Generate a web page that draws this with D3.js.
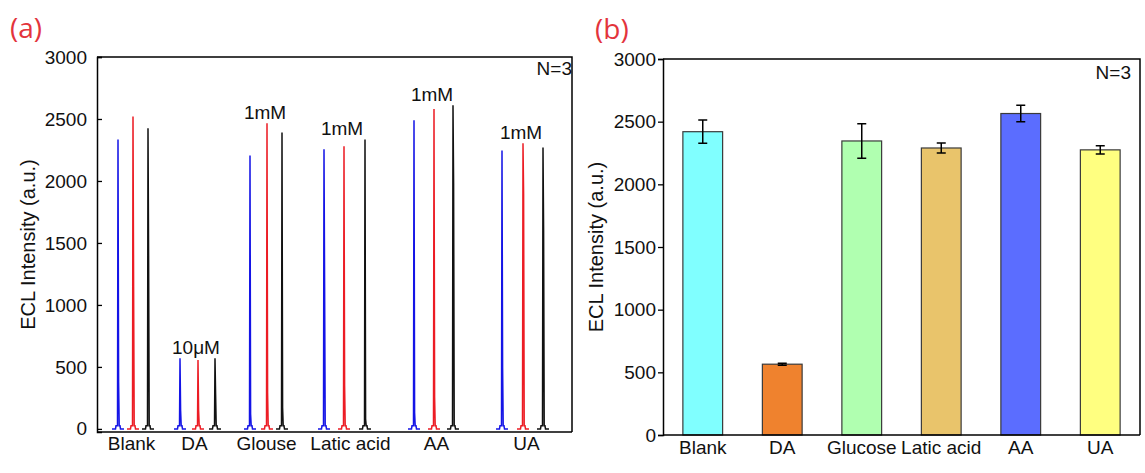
<!DOCTYPE html>
<html><head><meta charset="utf-8">
<script src="https://cdn.jsdelivr.net/npm/d3@7"></script>
<style>
html,body{margin:0;padding:0;background:#fff;}
svg{display:block;font-family:Arial,"Liberation Sans",sans-serif;}
</style></head>
<body>
<svg id="chart" width="1145" height="473"></svg>
<script>
// ---------- Panel (a) data ----------
const categoriesA = ["Blank", "DA", "Glouse", "Latic acid", "AA", "UA"];
const labelTimesA = [34, 97, 169, 253, 339, 429];
const concLabels = ["", "10μM", "1mM", "1mM", "1mM", "1mM"];
const peakTimesBlue = [21, 83, 153, 227, 317, 405];
const peakTimesRed = [36, 101, 170, 247, 337, 426];
const peakTimesBlack = [51, 118, 185, 268, 356, 446];
const peaksBlue = [2335, 570, 2205, 2255, 2490, 2245];
const peaksRed = [2520, 556, 2465, 2280, 2580, 2305];
const peaksBlack = [2425, 570, 2390, 2335, 2610, 2270];
const shoulderBlue = [380, 150, 120, 1170, 130, 500];
const shoulderRed = [1150, 150, 290, 355, 260, 1900];
const shoulderBlack = [1400, 280, 170, 80, 1980, 1600];
const footValue = 25;
const spikeOffsets = [-6, -2.5, -2, -0.5, 0, 0.6, 1.2, 2, 2.5, 6];
const yTicksA = [0, 500, 1000, 1500, 2000, 2500, 3000];

// ---------- Panel (b) data ----------
const categoriesB = ["Blank", "DA", "Glucose", "Latic acid", "AA", "UA"];
const meansB = [2420, 565, 2346, 2290, 2565, 2275];
const errorsB = [93, 8, 137, 40, 65, 33];
const colorsB = ["#80ffff", "#ef822e", "#b0ffb0", "#e9c46b", "#5b6dff", "#ffff80"];
const yTicksB = [0, 500, 1000, 1500, 2000, 2500, 3000];

const svg = d3.select("#chart");
const FONT = 19;

// ======== Panel (a) ========
const A = {left: 97, right: 572, top: 57, bottom: 432};
const xA = d3.scaleLinear().domain([0, 475]).range([A.left, A.right]);
const yA = d3.scaleLinear().domain([-25, 3000]).range([A.bottom, A.top]);

const gA = svg.append("g");
gA.append("path").attr("d", `M${A.left},${A.top}H${A.right}V${A.bottom}`)
  .attr("fill", "none").attr("stroke", "#000").attr("stroke-width", 1.5);

const yAxisA = d3.axisLeft(yA).tickValues(yTicksA).tickSize(-5).tickPadding(10).tickFormat(d3.format("d"));
const gyA = gA.append("g").attr("transform", `translate(${A.left},0)`).call(yAxisA);
gyA.select(".domain").attr("stroke-width", 1.5);
gyA.selectAll(".tick line").attr("stroke-width", 1.3);
gyA.selectAll("text").attr("font-size", FONT).attr("font-family", "Arial, 'Liberation Sans', sans-serif").attr("fill", "#111");

const xAxisA = d3.axisBottom(xA).tickValues(labelTimesA).tickSize(0).tickPadding(5)
  .tickFormat((d, i) => categoriesA[i]);
const gxA = gA.append("g").attr("transform", `translate(0,${A.bottom})`).call(xAxisA);
gxA.select(".domain").attr("stroke-width", 1.5).attr("d", `M${A.left},0H${A.right}`);
gxA.selectAll("text").attr("font-size", FONT).attr("font-family", "Arial, 'Liberation Sans', sans-serif").attr("fill", "#111");

const spikeSeries = [
  {times: peakTimesBlue, peaks: peaksBlue, shoulders: shoulderBlue, color: "#1414e6"},
  {times: peakTimesRed, peaks: peaksRed, shoulders: shoulderRed, color: "#ec1c24"},
  {times: peakTimesBlack, peaks: peaksBlack, shoulders: shoulderBlack, color: "#111111"}
];
const line = d3.line().x(d => xA(d[0])).y(d => yA(d[1]));
spikeSeries.forEach(s => {
  s.times.forEach((t, i) => {
    const vals = [0, 0, footValue, footValue, s.peaks[i], s.shoulders[i], footValue, footValue, 0, 0];
    const pts = spikeOffsets.map((o, k) => [t + o, vals[k]]);
    gA.append("path").attr("d", line(pts)).attr("fill", "none")
      .attr("stroke", s.color).attr("stroke-width", 1.5).attr("stroke-linejoin", "miter");
  });
});

concLabels.forEach((lab, i) => {
  if (!lab) return;
  const m = Math.max(peaksBlue[i], peaksRed[i], peaksBlack[i]);
  gA.append("text").attr("x", xA(peakTimesRed[i]) - 2).attr("y", yA(m) - 4)
    .attr("text-anchor", "middle").attr("font-size", FONT).attr("fill", "#111").text(lab);
});

gA.append("text").attr("x", A.right).attr("y", 75).attr("text-anchor", "end")
  .attr("font-size", FONT).attr("fill", "#111").text("N=3");

gA.append("text").attr("transform", `translate(27.5,${(A.top + A.bottom) / 2}) rotate(-90)`)
  .attr("text-anchor", "middle").attr("dy", "0.35em").attr("font-size", 20).attr("fill", "#111")
  .text("ECL Intensity (a.u.)");

svg.append("text").attr("x", 10).attr("y", 38).attr("font-size", 28)
  .attr("font-family", "'Open Sans', sans-serif").attr("fill", "#e3343c").text("(a)");

// ======== Panel (b) ========
const B = {left: 663, right: 1140, top: 59, bottom: 435};
const xB = d3.scaleBand().domain(categoriesB).range([B.left, B.right]).paddingInner(0.5).paddingOuter(0.25);
const yB = d3.scaleLinear().domain([0, 3000]).range([B.bottom, B.top]);

const gB = svg.append("g");
gB.selectAll("rect.bar").data(categoriesB).join("rect").attr("class", "bar")
  .attr("x", d => xB(d)).attr("width", xB.bandwidth())
  .attr("y", (d, i) => yB(meansB[i])).attr("height", (d, i) => yB(0) - yB(meansB[i]))
  .attr("fill", (d, i) => colorsB[i]).attr("stroke", "#3a3a3a").attr("stroke-width", 1.2);

categoriesB.forEach((c, i) => {
  const cx = xB(c) + xB.bandwidth() / 2;
  const hi = yB(meansB[i] + errorsB[i]), lo = yB(meansB[i] - errorsB[i]);
  const capW = 4.5;
  gB.append("path").attr("d", `M${cx},${hi}V${lo}M${cx - capW},${hi}H${cx + capW}M${cx - capW},${lo}H${cx + capW}`)
    .attr("fill", "none").attr("stroke", "#000").attr("stroke-width", 1.5);
});

gB.append("path").attr("d", `M${B.left},${B.top}H${B.right}V${B.bottom}`)
  .attr("fill", "none").attr("stroke", "#000").attr("stroke-width", 1.5);

const yAxisB = d3.axisLeft(yB).tickValues(yTicksB).tickSize(5).tickPadding(2).tickFormat(d3.format("d"));
const gyB = gB.append("g").attr("transform", `translate(${B.left},0)`).call(yAxisB);
gyB.select(".domain").attr("stroke-width", 1.5);
gyB.selectAll(".tick line").attr("stroke-width", 1.3);
gyB.selectAll("text").attr("font-size", FONT).attr("font-family", "Arial, 'Liberation Sans', sans-serif").attr("fill", "#111");

const xAxisB = d3.axisBottom(xB).tickSize(0).tickPadding(6);
const gxB = gB.append("g").attr("transform", `translate(0,${B.bottom})`).call(xAxisB);
gxB.select(".domain").attr("stroke-width", 1.5).attr("d", `M${B.left},0H${B.right}`);
gxB.selectAll("text").attr("font-size", FONT).attr("font-family", "Arial, 'Liberation Sans', sans-serif").attr("fill", "#111");

gB.append("text").attr("x", 1131).attr("y", 79).attr("text-anchor", "end")
  .attr("font-size", FONT).attr("fill", "#111").text("N=3");

gB.append("text").attr("transform", `translate(596,${(B.top + B.bottom) / 2}) rotate(-90)`)
  .attr("text-anchor", "middle").attr("dy", "0.35em").attr("font-size", 20).attr("fill", "#111")
  .text("ECL Intensity (a.u.)");

svg.append("text").attr("x", 595).attr("y", 39).attr("font-size", 28)
  .attr("font-family", "'Open Sans', sans-serif").attr("fill", "#e3343c").text("(b)");
</script>
</body></html>
